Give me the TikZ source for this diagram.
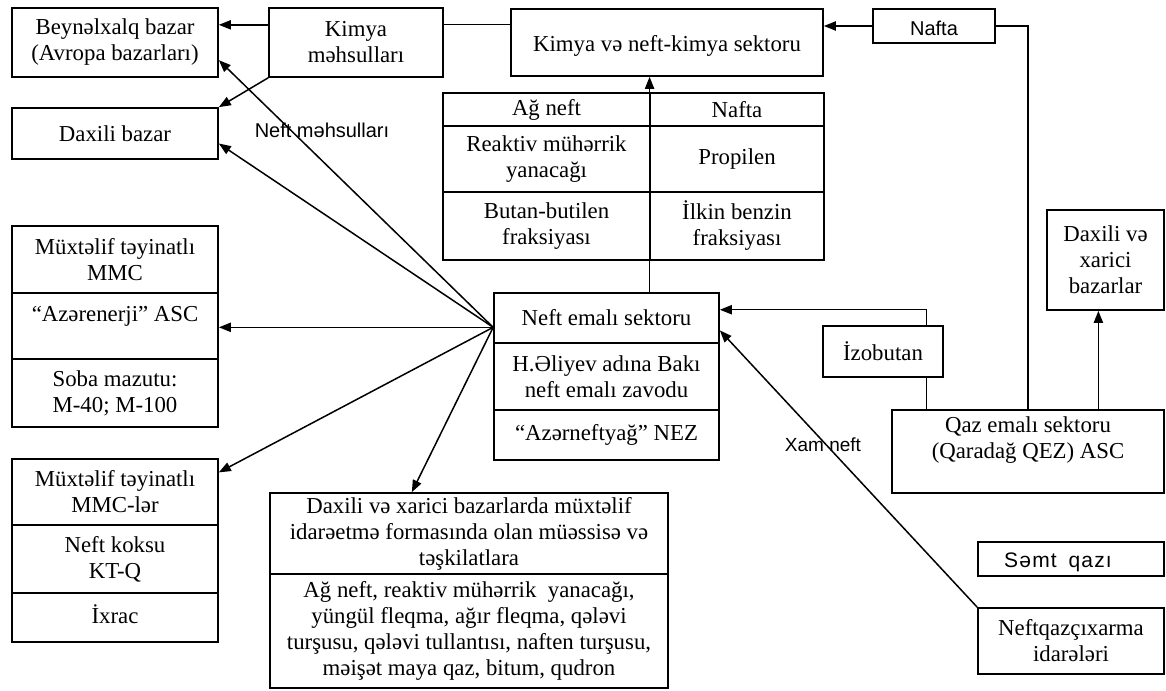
\documentclass[tikz,border=0pt]{standalone}
\usepackage{fontspec}
\setmainfont{Liberation Serif}
\newfontfamily\sanslbl{Liberation Sans}
\usetikzlibrary{arrows.meta,calc}
\newcommand{\mainfs}{\fontsize{11.4}{13}\selectfont}
\newcommand{\tightfs}{\fontsize{11.4}{10.8}\selectfont}
\newcommand{\mkbox}[6]{\node[box,minimum width={((#4)-(#2))*0.5pt},minimum height={((#5)-(#3))*0.5pt}] (#1) at ({((#2)+(#4))/2},{((#3)+(#5))/2}) {#6};}
\tikzset{
  box/.style={draw, line width=0.85pt, inner sep=0pt, align=center, font=\mainfs},
  txt/.style={inner sep=0pt, align=center, font=\mainfs},
  arr/.style={-{Triangle[length=6pt,width=4.6pt]}, line width=0.75pt},
  ln/.style={line width=0.75pt},
  lbl/.style={inner sep=0pt, font=\sanslbl\fontsize{9.5}{11}\selectfont}
}
\begin{document}
\begin{tikzpicture}[x=0.5pt,y=-0.5pt]
\path[fill=white] (0,0) rectangle (1166,690);
\useasboundingbox (0,0) rectangle (1166,690);

% left column top
\mkbox{intl}{12}{8}{218}{77}{Beynəlxalq bazar\\(Avropa bazarları)}
\mkbox{kimya}{269}{8}{443}{77}{Kimya\\məhsulları}
\mkbox{daxili}{12}{108}{218}{159}{Daxili bazar}

% chemistry sector
\mkbox{kns}{511}{9}{823}{76}{}
\node[txt] (knst) at (667,46) {Kimya və neft-kimya sektoru};
\mkbox{naftatop}{873}{9}{995}{43}{}
\node[lbl,font=\sanslbl\fontsize{10}{12}\selectfont] (naftat) at (934,28) {Nafta};

% product table
\mkbox{t11}{443}{93}{650}{126}{Ağ neft}
\mkbox{t12}{650}{93}{824}{126}{Nafta}
\mkbox{t21}{443}{126}{650}{192}{Reaktiv mühərrik\\yanacağı}
\mkbox{t22}{650}{126}{824}{192}{Propilen}
\mkbox{t31}{443}{192}{650}{260}{Butan-butilen\\fraksiyası}
\mkbox{t32}{650}{192}{824}{260}{İlkin benzin\\fraksiyası}

% refining sector
\mkbox{nes1}{494}{293}{719}{343}{Neft emalı sektoru}
\mkbox{nes2}{494}{343}{719}{410}{H.Əliyev adına Bakı\\neft emalı zavodu}
\mkbox{nes3}{494}{410}{719}{460}{“Azərneftyağ” NEZ}

% left group 1
\mkbox{ma1}{12}{226}{218}{293}{Müxtəlif təyinatlı\\MMC}
\mkbox{ma2}{12}{293}{218}{359}{}
\node[txt] (ma2t) at (115,316) {“Azərenerji” ASC};
\mkbox{ma3}{12}{359}{218}{427}{Soba mazutu:\\M-40; M-100}

% left group 2
\mkbox{mb1}{12}{459}{218}{525}{Müxtəlif təyinatlı\\MMC-lər}
\mkbox{mb2}{12}{525}{218}{593}{Neft koksu\\KT-Q}
\mkbox{mb3}{12}{593}{218}{642}{}
\node[txt] (mb3t) at (115,614) {İxrac};

% bottom center box
\mkbox{dx1}{270}{493}{668}{574}{\tightfs Daxili və xarici bazarlarda müxtəlif\\\tightfs idarəetmə formasında olan müəssisə və\\\tightfs təşkilatlara}
\mkbox{dx2}{270}{574}{668}{688}{\tightfs Ağ neft, reaktiv mühərrik\ \ yanacağı,\\\tightfs yüngül fleqma, ağır fleqma, qələvi\\\tightfs turşusu, qələvi tullantısı, naften turşusu,\\\tightfs məişət maya qaz, bitum, qudron}

% right side
\mkbox{izo}{823}{326}{943}{377}{İzobutan}
\mkbox{qaz}{892}{410}{1164}{493}{}
\node[txt] (qazt) at (1028,440) {Qaz emalı sektoru\\(Qaradağ QEZ) ASC};
\mkbox{dxb}{1047}{210}{1164}{310}{Daxili və\\xarici\\bazarlar}
\mkbox{samt}{978}{542}{1164}{576}{}
\node[lbl,font=\sanslbl\fontsize{10.5}{12}\selectfont] (samtt) at (1058,562) {S\kern0.6pt ə\kern0.6pt m\kern0.6pt t\ \ q\kern0.6pt a\kern0.6pt z\kern0.6pt ı};
\mkbox{nqi}{978}{608}{1164}{674}{Neftqazçıxarma\\idarələri}

% labels
\node[lbl,font=\sanslbl\fontsize{10}{12}\selectfont] (nmlbl) at (322,130) {Neft məhsulları};
\node[lbl] (xamlbl) at (823,445) {Xam neft};

% connectors top
\coordinate (k1) at ($(kimya.north west)!0.25!(kimya.south west)$);
\draw[arr] (k1) -- (k1 -| intl.east);
\draw[arr] (kimya.south west) -- (daxili.north east);
\coordinate (k2) at ($(kns.north west)!0.24!(kns.south west)$);
\draw[ln] (k2) -- (k2 -| kimya.east);
\draw[arr] (naftatop.west) -- (naftatop.west -| kns.east);
\draw[ln] (qaz.north) |- (naftatop.east);

% refining -> chemistry
\coordinate (n1) at ($(nes1.north west)!0.69!(nes1.north east)$);
\draw[arr] (n1) -- (n1 |- kns.south);

% fan out
\coordinate (f) at ($(nes1.north west)!0.68!(nes1.south west)$);
\draw[arr] (f) -- ($(intl.north east)!0.75!(intl.south east)$);
\draw[arr] (f) -- ($(daxili.north east)!0.69!(daxili.south east)$);
\draw[arr] (f) -- (f -| ma2.east);
\draw[arr] (f) -- ($(mb1.north east)!0.21!(mb1.south east)$);
\draw[arr] (f) -- ($(dx1.north west)!0.357!(dx1.north east)$);

% isobutane
\coordinate (izb) at ($(izo.south west)!0.858!(izo.south east)$);
\coordinate (izt) at ($(izo.north west)!0.858!(izo.north east)$);
\draw[ln] (izb) -- (izb |- qaz.north);
\coordinate (ne1) at ($(nes1.north east)!0.34!(nes1.south east)$);
\draw[arr] (izt) |- (ne1);

% crude oil
\draw[arr] (nqi.north west) -- ($(nes1.north east)!0.74!(nes1.south east)$);

% gas -> markets
\coordinate (d2) at ($(dxb.south west)!0.44!(dxb.south east)$);
\draw[arr] (d2 |- qaz.north) -- (d2);
\end{tikzpicture}
\end{document}
